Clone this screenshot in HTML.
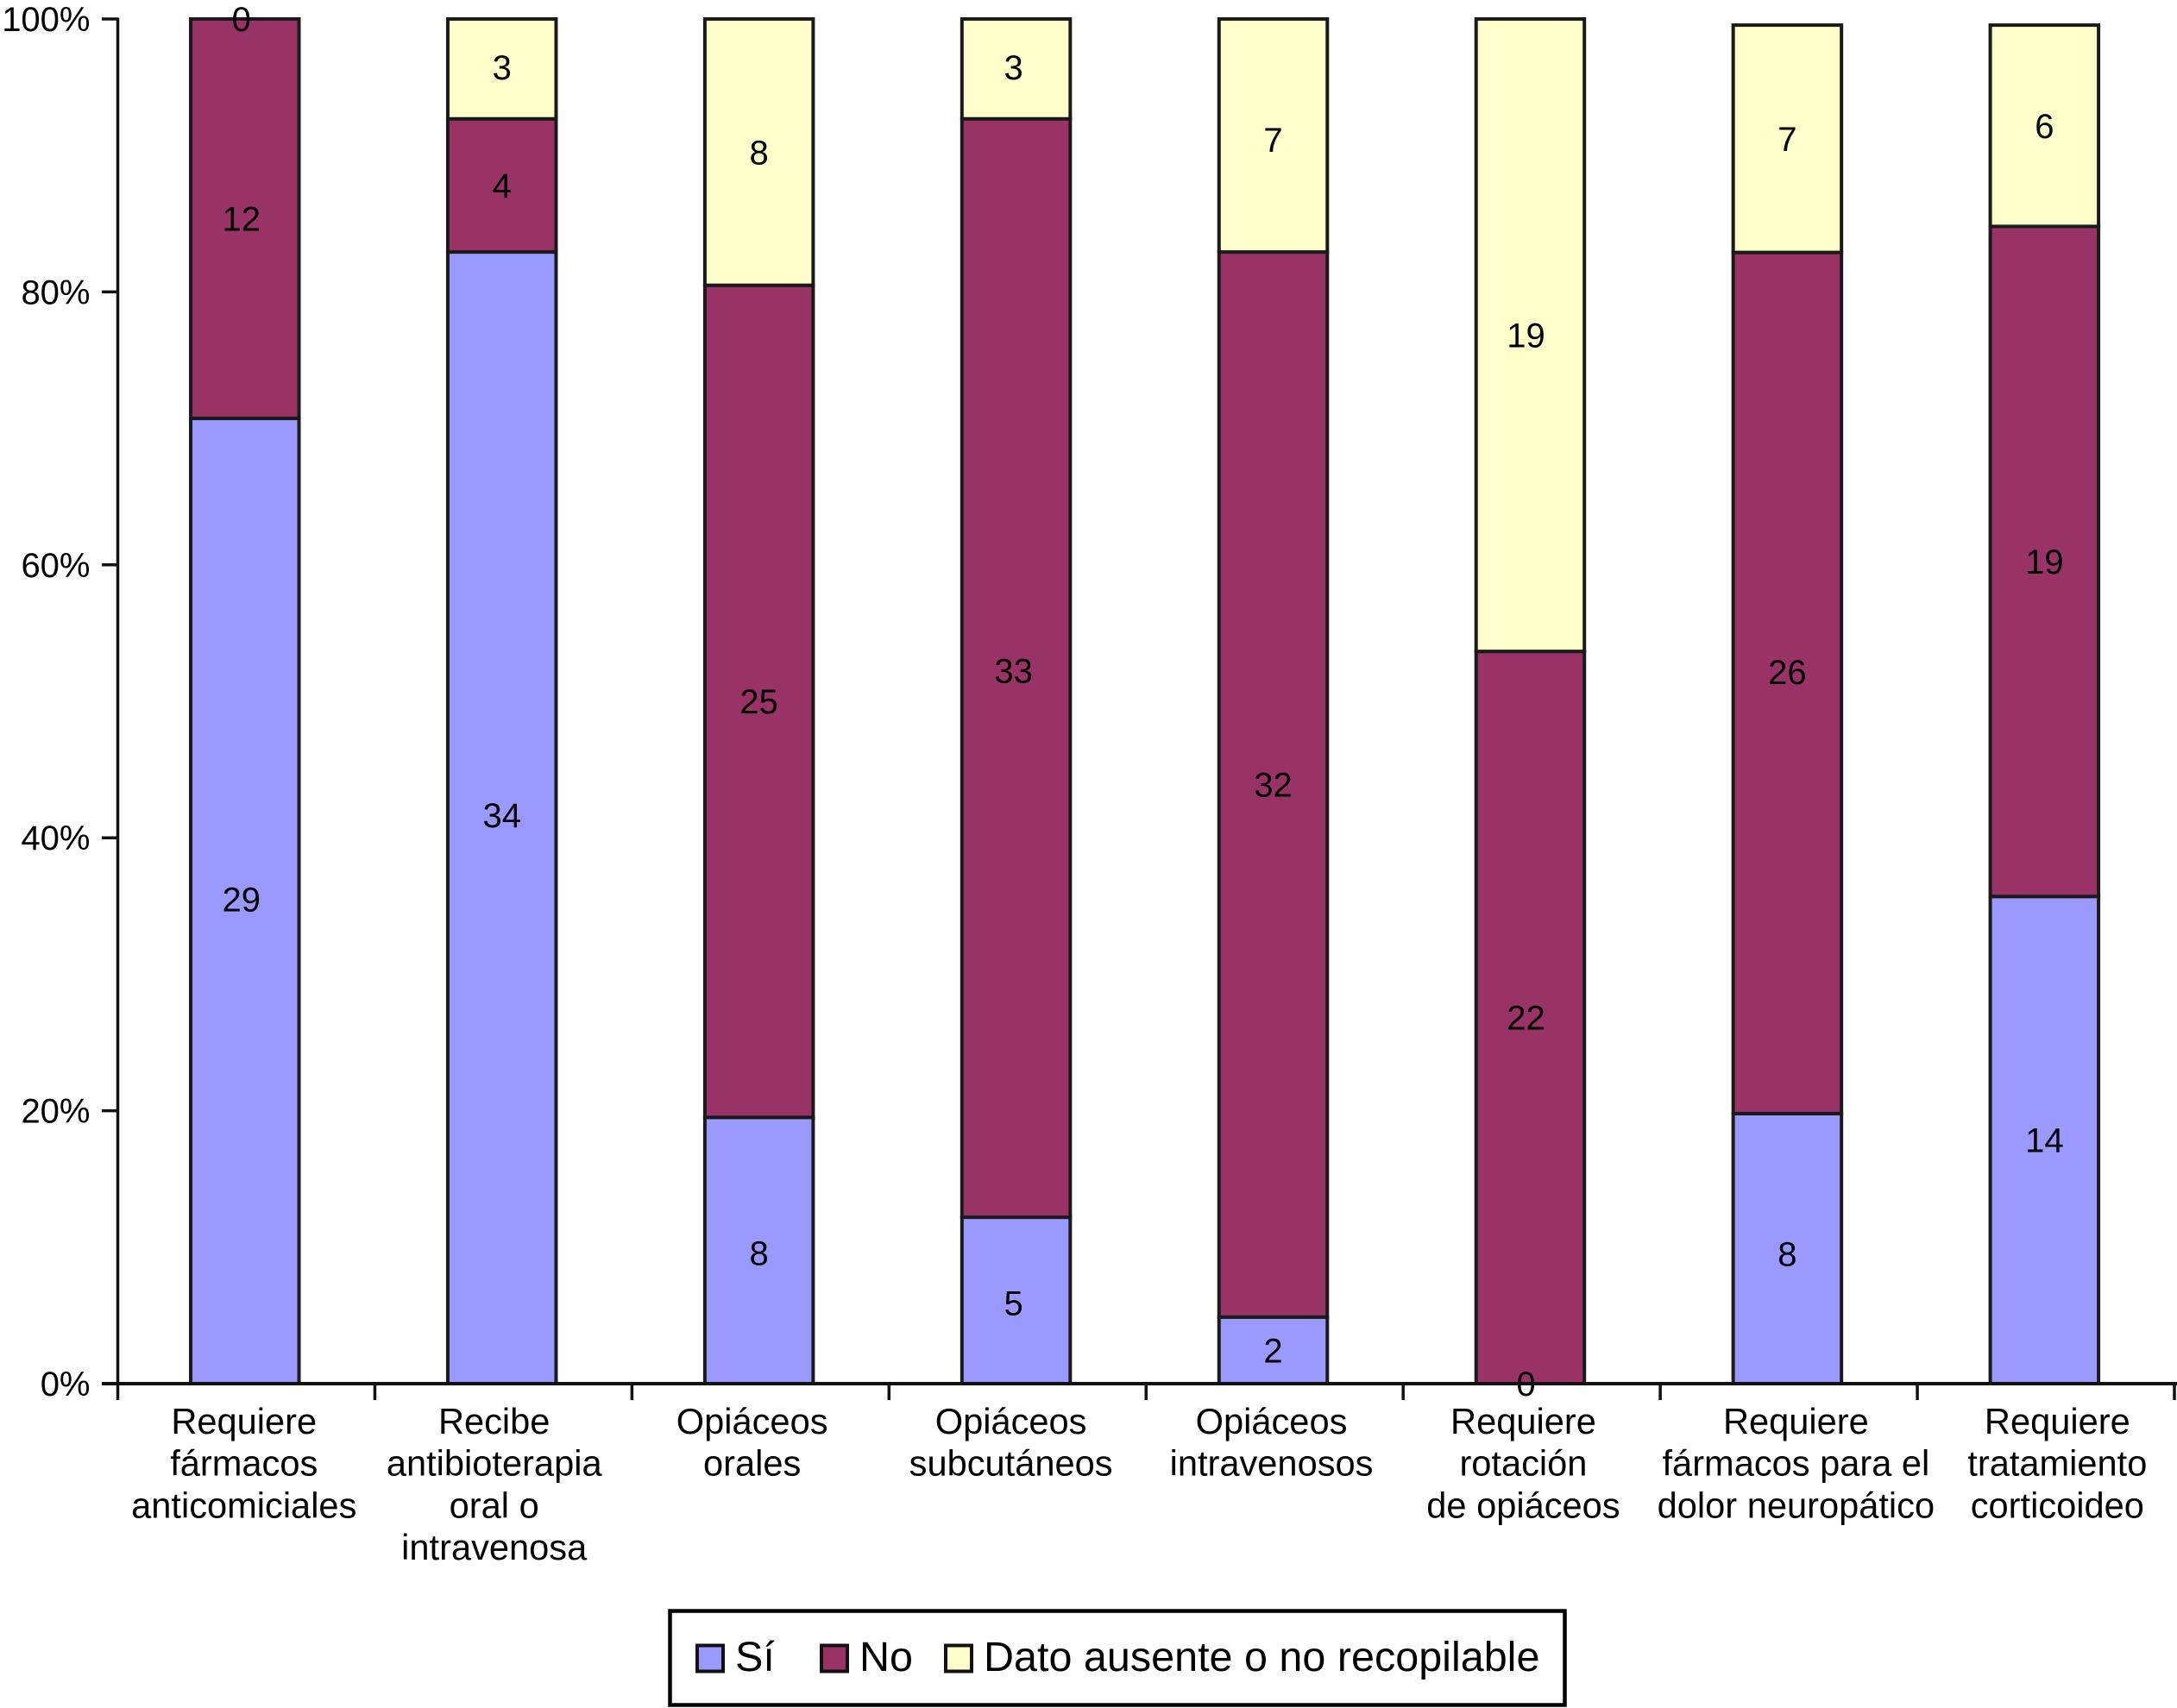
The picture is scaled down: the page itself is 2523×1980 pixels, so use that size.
<!DOCTYPE html>
<html lang="es">
<head>
<meta charset="utf-8">
<title>Gráfico de barras apiladas</title>
<style>
html,body{margin:0;padding:0;background:#fff;}
#chart{display:block;width:2523px;height:1980px;font-family:"Liberation Sans",Arial,sans-serif;fill:#000;}
</style>
</head>
<body>
<svg id="chart" xmlns="http://www.w3.org/2000/svg" width="2523" height="1980" viewBox="0 0 2523 1980">
  <rect x="0" y="0" width="2523" height="1980" fill="#ffffff"/>
  <g id="bars"></g>
  <g id="values" font-size="40" text-anchor="middle"></g>
  <g id="y-axis" stroke="#111" stroke-width="3.5"></g>
  <g id="x-axis" stroke="#111" stroke-width="3.5"></g>
  <g id="categories" font-size="41.6" text-anchor="middle"></g>
  <g>
    <rect x="776.5" y="1867.5" width="1037" height="109" fill="#fff" stroke="#000" stroke-width="4.5"/>
    <rect x="808" y="1907.5" width="30" height="30" fill="#9999FF" stroke="#111" stroke-width="4"/>
    <text x="852" y="1937" font-size="48.5">Sí</text>
    <rect x="952" y="1907.5" width="30" height="30" fill="#993366" stroke="#111" stroke-width="4"/>
    <text x="996" y="1937" font-size="48.5">No</text>
    <rect x="1096" y="1907.5" width="30" height="30" fill="#FFFFCC" stroke="#111" stroke-width="4"/>
    <text x="1140" y="1937" font-size="48.5">Dato ausente o no recopilable</text>
  </g>
</svg>
<script>
const categories = [
  ["Requiere", "fármacos", "anticomiciales"],
  ["Recibe", "antibioterapia", "oral o", "intravenosa"],
  ["Opiáceos", "orales"],
  ["Opiáceos", "subcutáneos"],
  ["Opiáceos", "intravenosos"],
  ["Requiere", "rotación", "de opiáceos"],
  ["Requiere", "fármacos para el", "dolor neuropático"],
  ["Requiere", "tratamiento", "corticoideo"]
];
const siValues   = [29, 34, 8, 5, 2, 0, 8.15, 13.99];
const noValues   = [12, 4, 25, 33, 32, 22, 25.99, 19.24];
const datoValues = [0, 3, 8, 3, 7, 19, 6.86, 5.78];
const stackTopPercent = [100, 100, 100, 100, 100, 100, 99.55, 99.55];
const yTickValues = [0, 20, 40, 60, 80, 100];
const yTickLabels = ["0%", "20%", "40%", "60%", "80%", "100%"];

const NS = "http://www.w3.org/2000/svg";
const plotLeft = 136.5, plotRight = 2520, plotTop = 22, plotBottom = 1604;
const barWidth = 125.5, barShift = -1.7, baselineShift = 14, lineGap = 48.7, categoryFirstBaseline = 1662;
const categoryLabelShift = [-1, -9, -8, -6, -2, -8, 10, 15];
const valueLabelShift = [-4, 0, 0, -3, 0, -5, 0, 0];
const labelLift = {
  si:   [-2, -3, 3, 3, 0, 0, 6, 0],
  no:   [0, 0, 0, 3, 0, 0, -13, 0],
  dato: [0, -2, 0, -2, 5, 0, 0, 0]
};

function xBand(i) {
  return plotLeft + (plotRight - plotLeft) / categories.length * i;
}
function xCenter(i) {
  return (xBand(i) + xBand(i + 1)) / 2 + barShift;
}
function yScale(p) {
  return plotBottom - (plotBottom - plotTop) * p / 100;
}
function node(tag, parent, attrs) {
  const el = document.createElementNS(NS, tag);
  for (const k in attrs) el.setAttribute(k, attrs[k]);
  parent.appendChild(el);
  return el;
}

const seriesList = [
  { key: "si", values: siValues, fill: "#9999FF" },
  { key: "no", values: noValues, fill: "#993366" },
  { key: "dato", values: datoValues, fill: "#FFFFCC" }
];

const barsG = document.getElementById("bars");
const valuesG = document.getElementById("values");
categories.forEach(function (lines, i) {
  const total = siValues[i] + noValues[i] + datoValues[i];
  let acc = 0;
  seriesList.forEach(function (s) {
    const v = s.values[i];
    const p0 = acc / total * stackTopPercent[i];
    acc += v;
    const p1 = acc / total * stackTopPercent[i];
    const y0 = yScale(p0), y1 = yScale(p1);
    if (v > 0) {
      const r = node("rect", barsG, {
        x: xCenter(i) - barWidth / 2, y: y1, width: barWidth, height: y0 - y1,
        fill: s.fill, stroke: "#1a1a1a", "stroke-width": 4
      });
      
      
    }
    const t = node("text", valuesG, {
      x: xCenter(i) + valueLabelShift[i], y: (y0 + y1) / 2 + baselineShift + labelLift[s.key][i]
    });
    t.textContent = Math.round(v);
    
    
  });
});

const yAxisG = document.getElementById("y-axis");
const yLine = node("line", yAxisG, { x1: plotLeft, x2: plotLeft, y1: plotTop - 1.5, y2: plotBottom + 19 });


yTickValues.forEach(function (v, i) {
  const tick = node("line", yAxisG, { x1: 118, x2: plotLeft, y1: yScale(v), y2: yScale(v) });
  
  
  const lab = node("text", yAxisG, {
    x: 104.5, y: yScale(v) + baselineShift, "text-anchor": "end", "font-size": 40, stroke: "none", fill: "#000"
  });
  lab.textContent = yTickLabels[i];
  
  
});

const xAxisG = document.getElementById("x-axis");
const xLine = node("line", xAxisG, { x1: 118, x2: 2523, y1: plotBottom, y2: plotBottom, "stroke-width": 4 });


for (let i = 1; i <= categories.length; i++) {
  const tick = node("line", xAxisG, { x1: xBand(i), x2: xBand(i), y1: plotBottom, y2: plotBottom + 19 });
  
  
}

const catG = document.getElementById("categories");
categories.forEach(function (lines, i) {
  const t = node("text", catG, {});
  
  
  lines.forEach(function (line, j) {
    const span = node("tspan", t, {
      x: xCenter(i) + categoryLabelShift[i], y: categoryFirstBaseline + j * lineGap
    });
    span.textContent = line;
  });
});
</script>
</body>
</html>
